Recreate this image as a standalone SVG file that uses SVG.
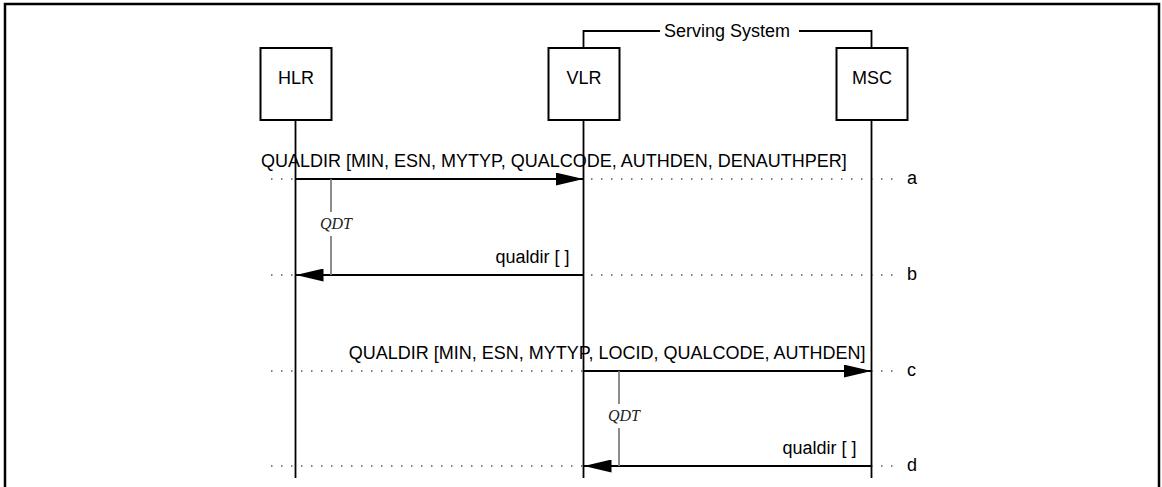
<svg xmlns="http://www.w3.org/2000/svg" width="1162" height="487" viewBox="0 0 1162 487">
<style>
.box{fill:#fff;stroke:#000;stroke-width:2}
.life{stroke:#000;stroke-width:1.8;fill:none}
.lbl{font-family:"Liberation Sans",Arial,sans-serif;font-size:18px;fill:#000}
.dots{stroke:#333;stroke-width:1.5;stroke-dasharray:1.2 8.8;fill:none}
.msg{stroke:#000;stroke-width:1.8;fill:none;marker-end:url(#ah)}
.timer{stroke:#808080;stroke-width:1.8;fill:none}
.qdt{font-family:"Liberation Serif","Times New Roman",serif;font-style:italic;font-size:16px;fill:#222}
.frame{stroke:#000;stroke-width:2.5;fill:none}
</style>
<defs>
<marker id="ah" markerUnits="userSpaceOnUse" viewBox="0 0 28 13" refX="28" refY="6.5" markerWidth="28" markerHeight="13" orient="auto">
<path d="M0,0 L28,6.5 L0,13 Z" fill="#000"/>
</marker>
</defs>
<rect width="1162" height="487" fill="#fff"/>
<g id="frame">
<path class="frame" d="M5,487 V4 H1159 V487"/>
</g>
<g id="serving-system">
<path class="life" d="M583.5,48 V31 H660 M799,31 H871.5 V48"/>
<text class="lbl" x="664" y="37">Serving System</text>
</g>
<g id="connectors">
<path class="dots" d="M271.2,179 H893"/>
<path class="dots" d="M271.2,275 H893"/>
<path class="dots" d="M271.2,371 H893"/>
<path class="dots" d="M271.2,466 H893"/>
<line class="msg" x1="295.5" y1="179" x2="583.5" y2="179"/>
<line class="msg" x1="583.5" y1="275" x2="295.5" y2="275"/>
<line class="msg" x1="583.5" y1="371" x2="871.5" y2="371"/>
<line class="msg" x1="871.5" y1="466" x2="583.5" y2="466"/>
<path class="timer" d="M331,179 V212 M331,236 V275"/>
<path class="timer" d="M619,371 V404 M619,428 V466"/>
</g>
<g id="node-hlr">
<line class="life" x1="295.5" y1="120" x2="295.5" y2="478"/>
<rect class="box" x="260.5" y="48" width="71" height="72"/>
<text class="lbl" x="296" y="83.5" text-anchor="middle">HLR</text>
</g>
<g id="node-vlr">
<line class="life" x1="583.5" y1="120" x2="583.5" y2="478"/>
<rect class="box" x="548.5" y="48" width="71" height="72"/>
<text class="lbl" x="584" y="83.5" text-anchor="middle">VLR</text>
</g>
<g id="node-msc">
<line class="life" x1="871.5" y1="120" x2="871.5" y2="478"/>
<rect class="box" x="836.5" y="48" width="71" height="72"/>
<text class="lbl" x="872" y="83.5" text-anchor="middle">MSC</text>
</g>
<g id="labels">
<text class="lbl" x="261" y="167">QUALDIR [MIN, ESN, MYTYP, QUALCODE, AUTHDEN, DENAUTHPER]</text>
<text class="lbl" x="569.5" y="263" text-anchor="end">qualdir [ ]</text>
<text class="lbl" x="865.5" y="359" text-anchor="end">QUALDIR [MIN, ESN, MYTYP, LOCID, QUALCODE, AUTHDEN]</text>
<text class="lbl" x="856.5" y="454" text-anchor="end">qualdir [ ]</text>
<text class="qdt" x="320" y="229">QDT</text>
<text class="qdt" x="608" y="421">QDT</text>
<text class="lbl" x="907" y="183.5">a</text>
<text class="lbl" x="907" y="279.5">b</text>
<text class="lbl" x="907" y="375.5">c</text>
<text class="lbl" x="907" y="470.5">d</text>
</g>
</svg>
